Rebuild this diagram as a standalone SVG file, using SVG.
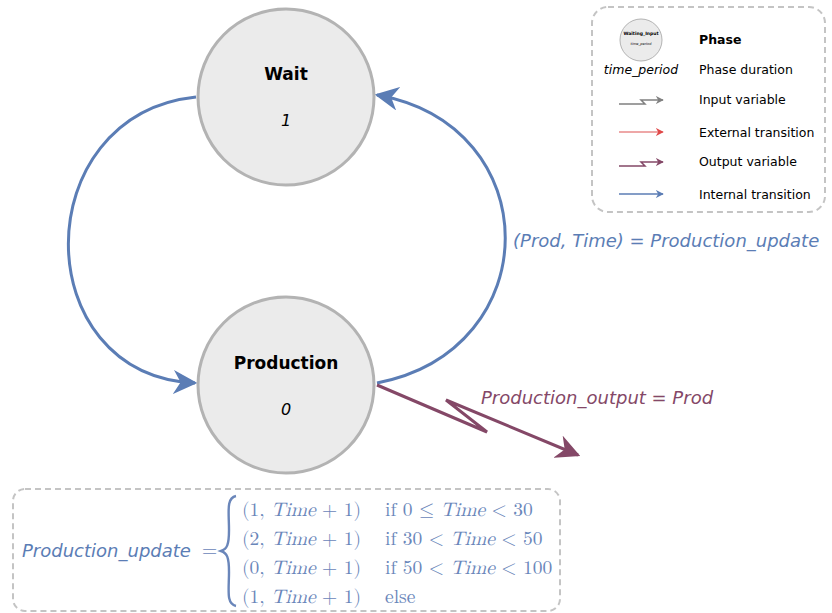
<svg xmlns="http://www.w3.org/2000/svg" width="832" height="613" viewBox="0 0 832 613">
<style>
.node{fill:#ebebeb;stroke:#b3b3b3;stroke-width:3}
.title{font-family:"DejaVu Sans",Verdana,sans-serif;font-weight:bold;font-size:17px;text-anchor:middle;fill:#000}
.dur{font-family:"DejaVu Sans",Verdana,sans-serif;font-style:italic;font-size:16px;text-anchor:middle;fill:#000}
.int{fill:none;stroke:#5b7db5;stroke-width:3}
.out{fill:none;stroke:#844867;stroke-width:3}
.lbl{font-family:"DejaVu Sans",Verdana,sans-serif;font-style:italic;font-size:18px}
.box{fill:none;stroke:#c4c4c4;stroke-width:2;stroke-dasharray:6 4}
.leg{font-family:"DejaVu Sans",Verdana,sans-serif;font-size:12.5px;fill:#000}
.math{font-family:"Latin Modern Math","DejaVu Serif","Liberation Serif",serif;font-size:19.5px;fill:#6a86ba}
.mi{font-style:italic}
</style>
<defs>
<marker id="ab" viewBox="0 0 10 10" refX="9" refY="5" markerWidth="8" markerHeight="8" markerUnits="userSpaceOnUse" orient="auto"><path d="M0,0 L10,5 L0,10 L3,5 z" fill="#5b7db5"/></marker>
<marker id="abL" viewBox="0 0 10 10" refX="9" refY="5" markerWidth="24" markerHeight="24" markerUnits="userSpaceOnUse" orient="auto"><path d="M0,0 L10,5 L0,10 L3,5 z" fill="#5b7db5"/></marker>
<marker id="apL" viewBox="0 0 10 10" refX="9" refY="5" markerWidth="24" markerHeight="24" markerUnits="userSpaceOnUse" orient="auto"><path d="M0,0 L10,5 L0,10 L3,5 z" fill="#844867"/></marker>
<marker id="ap" viewBox="0 0 10 10" refX="9" refY="5" markerWidth="8" markerHeight="8" markerUnits="userSpaceOnUse" orient="auto"><path d="M0,0 L10,5 L0,10 L3,5 z" fill="#844867"/></marker>
<marker id="ag" viewBox="0 0 10 10" refX="9" refY="5" markerWidth="8" markerHeight="8" markerUnits="userSpaceOnUse" orient="auto"><path d="M0,0 L10,5 L0,10 L3,5 z" fill="#808080"/></marker>
<marker id="ar" viewBox="0 0 10 10" refX="9" refY="5" markerWidth="8" markerHeight="8" markerUnits="userSpaceOnUse" orient="auto"><path d="M0,0 L10,5 L0,10 L3,5 z" fill="#e04848"/></marker>
</defs>

<g id="connectors">
<path class="int" d="M196,97 C26,115 26,375 195,383" marker-end="url(#abL)"/>
<path class="int" d="M377,383 C548,350 548,125 377,95" marker-end="url(#abL)"/>
<path class="out" d="M377,385 L487,432 L446,400 L578,455" marker-end="url(#apL)"/>
</g>

<g id="wait">
<circle class="node" cx="286" cy="97" r="88"/>
<text class="title" x="286" y="80">Wait</text>
<text class="dur" x="286" y="126">1</text>
</g>

<g id="production">
<circle class="node" cx="286" cy="385" r="88"/>
<text class="title" x="286" y="369">Production</text>
<text class="dur" x="286" y="415">0</text>
</g>

<text class="lbl" x="513" y="247" fill="#5b7db5">(Prod, Time) = Production_update</text>
<text class="lbl" x="481" y="404" fill="#844867">Production_output = Prod</text>

<g id="legend">
<rect class="box" x="592" y="7" width="233" height="205" rx="16"/>
<circle cx="641" cy="40" r="21" fill="#ebebeb" stroke="#b3b3b3" stroke-width="1"/>
<text x="641" y="35" font-family="DejaVu Sans,sans-serif" font-size="4.5" font-weight="bold" text-anchor="middle" fill="#000">Waiting_Input</text>
<text x="641" y="45" font-family="DejaVu Sans,sans-serif" font-size="3.5" font-style="italic" text-anchor="middle" fill="#000">time_period</text>
<text x="641" y="74" font-family="DejaVu Sans,sans-serif" font-size="12.5" font-style="italic" text-anchor="middle">time_period</text>
<text class="leg" x="699" y="44" font-weight="bold">Phase</text>
<text class="leg" x="699" y="74">Phase duration</text>
<path d="M619,104 L645,104 L641,100 L663,100" fill="none" stroke="#808080" stroke-width="1.5" marker-end="url(#ag)"/>
<text class="leg" x="699" y="104">Input variable</text>
<path d="M619,132 L663,132" fill="none" stroke="#e88a8a" stroke-width="1.5" marker-end="url(#ar)"/>
<text class="leg" x="699" y="137">External transition</text>
<path d="M619,166 L645,166 L641,162 L663,162" fill="none" stroke="#844867" stroke-width="1.5" marker-end="url(#ap)"/>
<text class="leg" x="699" y="166">Output variable</text>
<path d="M619,194 L663,194" fill="none" stroke="#5b7db5" stroke-width="1.5" marker-end="url(#ab)"/>
<text class="leg" x="699" y="199">Internal transition</text>
</g>

<g id="formula">
<rect class="box" x="13" y="489" width="547" height="122" rx="12"/>
<text class="lbl" x="22" y="557" fill="#5b7db5">Production_update</text>
<text class="math" x="202" y="556">=</text>
<path d="M236,496 C226,498 229,512 229,530 C229,545 227,549 221,551 C227,553 229,557 229,572 C229,590 226,604 236,606" fill="none" stroke="#6a86ba" stroke-width="2.4"/>
<text class="math" x="242" y="516">(1, <tspan class="mi">Time</tspan> + 1)</text>
<text class="math" x="385" y="516">if 0 ≤ <tspan class="mi">Time</tspan> &lt; 30</text>
<text class="math" x="242" y="545">(2, <tspan class="mi">Time</tspan> + 1)</text>
<text class="math" x="385" y="545">if 30 &lt; <tspan class="mi">Time</tspan> &lt; 50</text>
<text class="math" x="242" y="574">(0, <tspan class="mi">Time</tspan> + 1)</text>
<text class="math" x="385" y="574">if 50 &lt; <tspan class="mi">Time</tspan> &lt; 100</text>
<text class="math" x="242" y="603">(1, <tspan class="mi">Time</tspan> + 1)</text>
<text class="math" x="385" y="603">else</text>
</g>
</svg>
